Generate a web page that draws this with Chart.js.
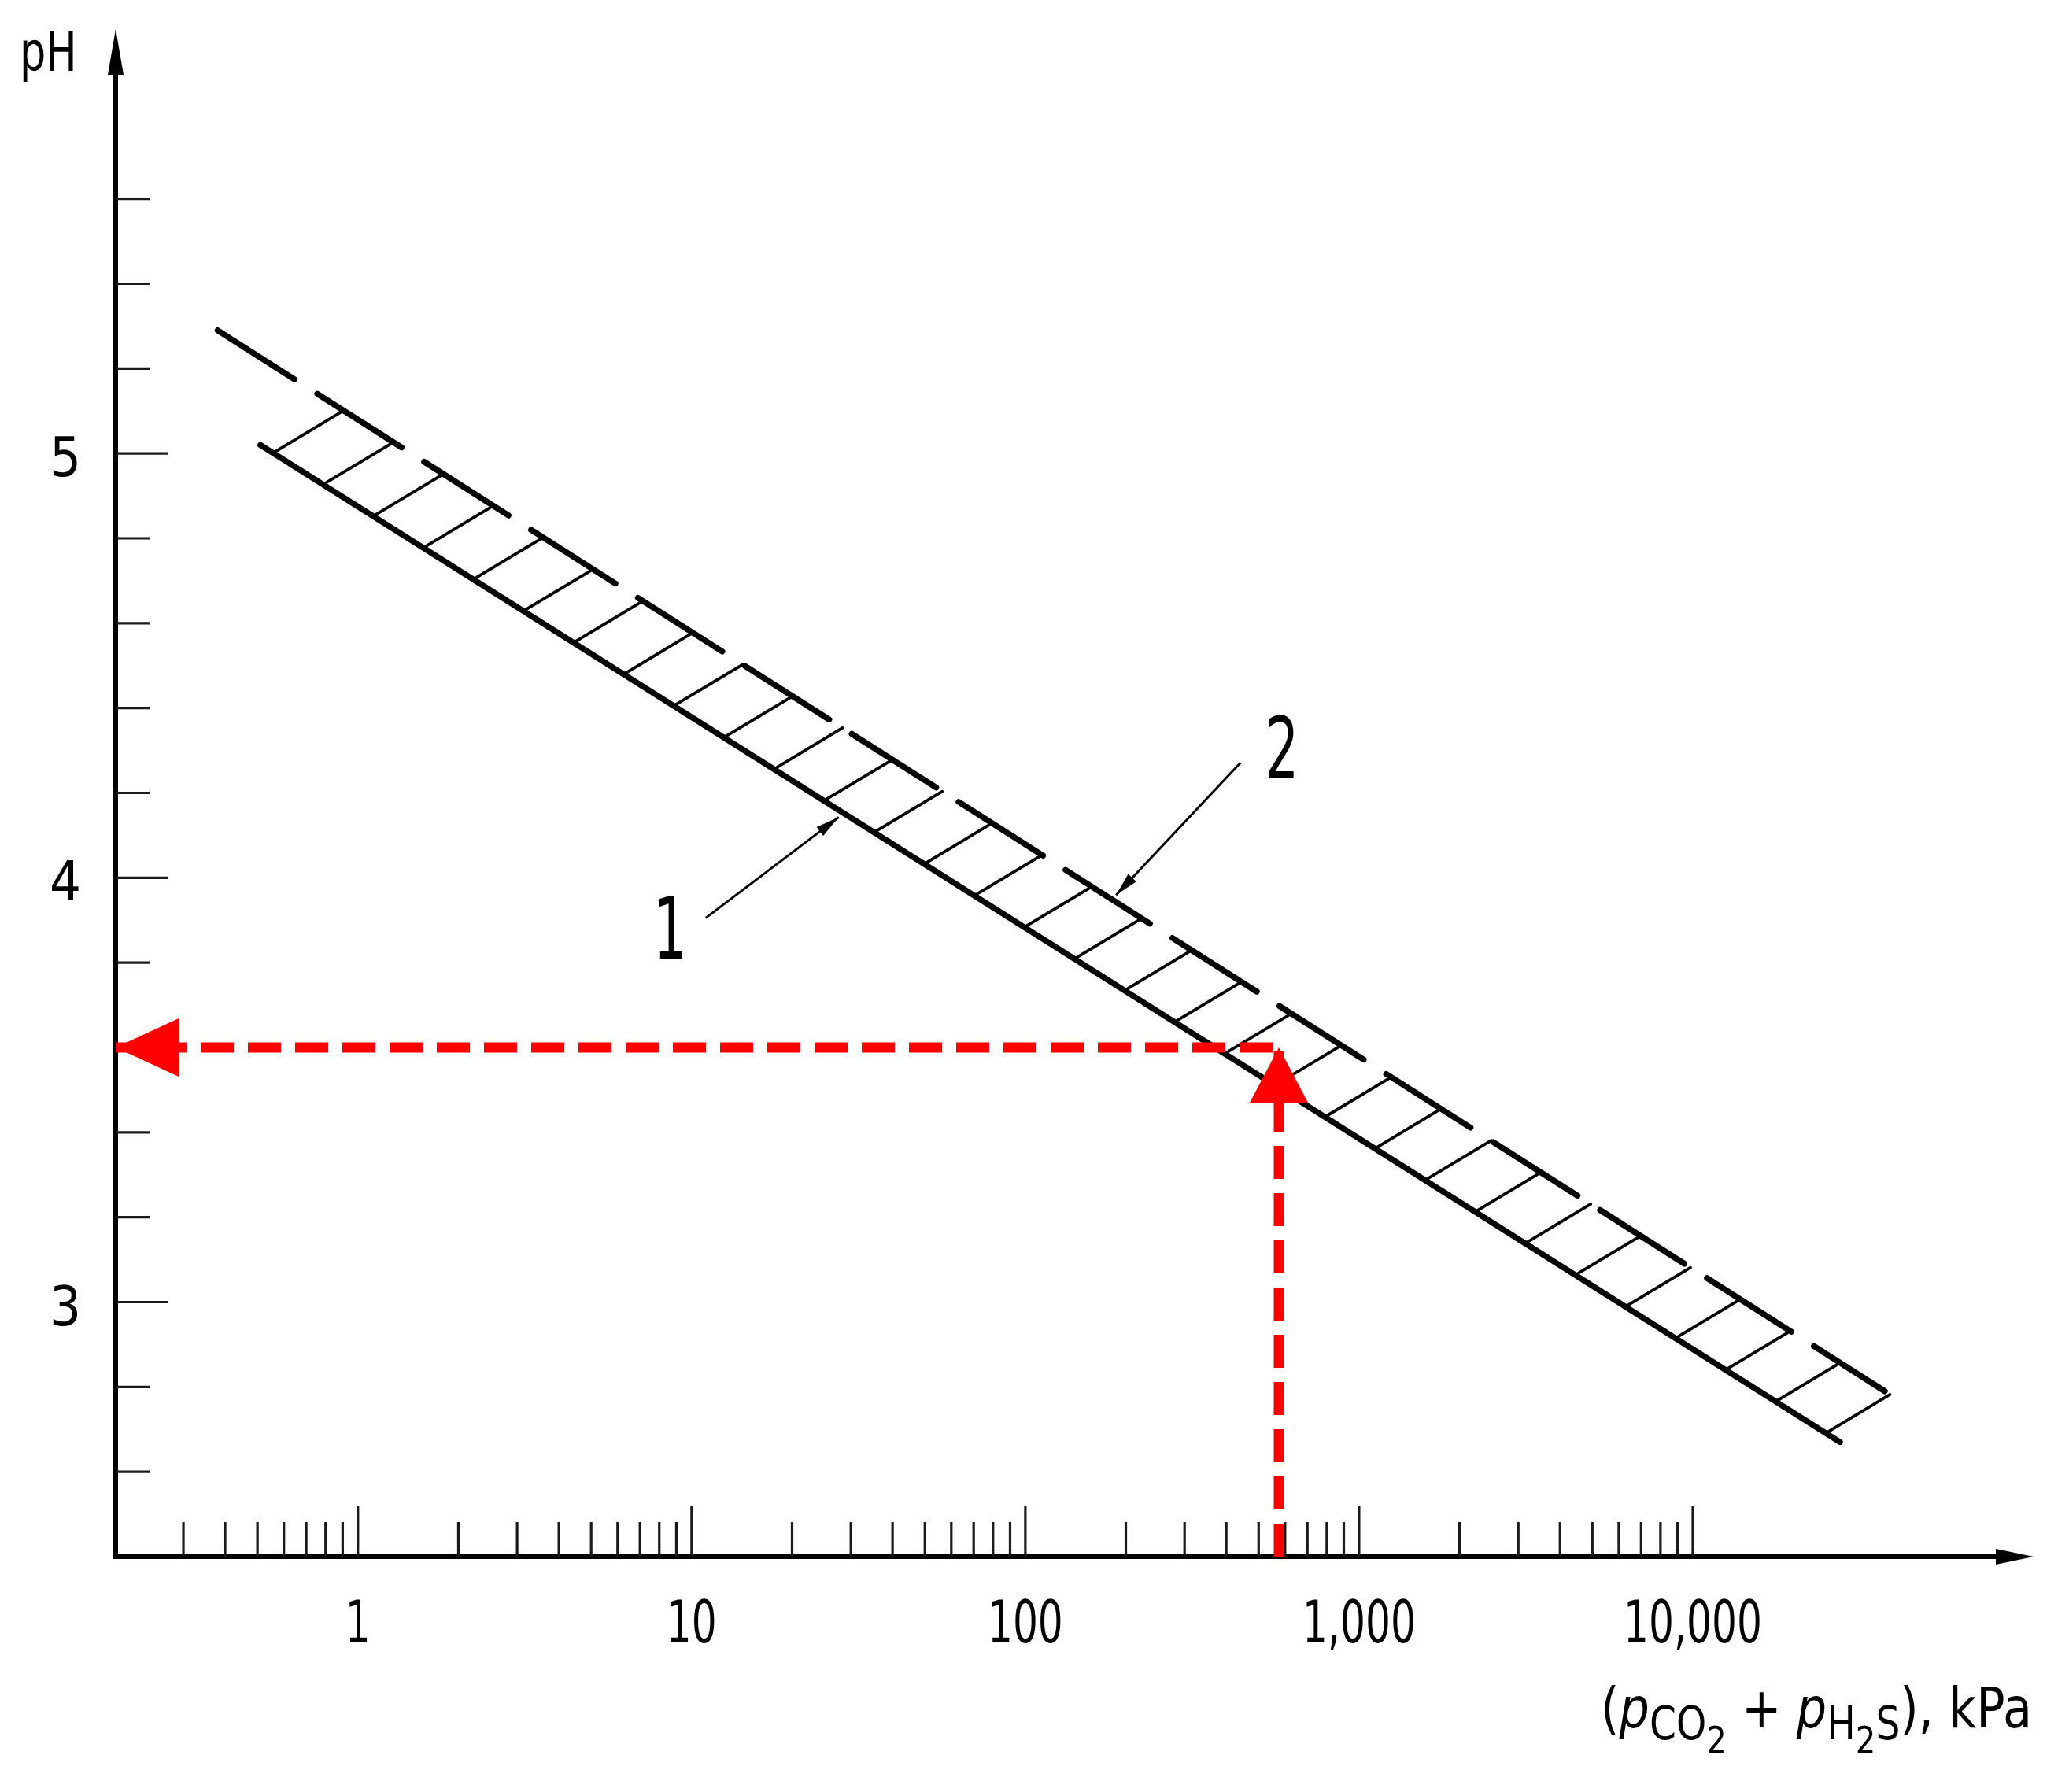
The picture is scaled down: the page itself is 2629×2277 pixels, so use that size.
<!DOCTYPE html>
<html>
<head>
<meta charset="utf-8">
<script src="https://cdn.jsdelivr.net/npm/chart.js@4.4.1/dist/chart.umd.min.js"></script>
<style>
  html, body { margin: 0; padding: 0; background: #ffffff; }
  #wrap { width: 2629px; height: 2277px; position: relative; }
  canvas { display: block; }
</style>
</head>
<body>
<div id="wrap"><canvas id="c" width="2629" height="2277"></canvas></div>
<script>
// ---------------- data ----------------
const pressureCurve1 = [0.51, 27600];     // kPa, curve 1 (solid)
const pHCurve1       = [5.02, 2.67];
const pressureCurve2 = [0.38, 37600];     // kPa, curve 2 (dashed)
const pHCurve2       = [5.29, 2.79];
const examplePressure = 575;              // kPa (red read-off example)
const examplePH       = 3.6;

const xRange = [0.188, 105000];
const yRange = [2.4, 6.0];

const xMajorTicks = [1, 10, 100, 1000, 10000];
const xTickLabels = ['1', '10', '100', '1,000', '10,000'];
const xMinorTicks = [0.3, 0.4, 0.5, 0.6, 0.7, 0.8, 0.9,
                     2, 3, 4, 5, 6, 7, 8, 9,
                     20, 30, 40, 50, 60, 70, 80, 90,
                     200, 300, 400, 500, 600, 700, 800, 900,
                     2000, 3000, 4000, 5000, 6000, 7000, 8000, 9000];
const yMajorTicks = [3, 4, 5];
const yTickLabels = ['3', '4', '5'];
const yMinorTicks = [2.6, 2.8, 3.2, 3.4, 3.6, 3.8, 4.2, 4.4, 4.6, 4.8, 5.2, 5.4, 5.6];

const yAxisTitle = 'pH';
const calloutLabels   = ['1', '2'];
const calloutPressure = [27.6, 187];      // kPa where the leader arrows touch curves 1 and 2

// ---------------- styles ----------------
const BLACK = '#000000';
const RED = '#ff0000';
const FONT = '"DejaVu Sans", "Liberation Sans", sans-serif';

function arrowHead(ctx, tipX, tipY, dirX, dirY, len, halfW, color) {
  const n = Math.hypot(dirX, dirY), ux = dirX / n, uy = dirY / n;
  const bx = tipX - ux * len, by = tipY - uy * len;
  ctx.beginPath();
  ctx.moveTo(tipX, tipY);
  ctx.lineTo(bx - uy * halfW, by + ux * halfW);
  ctx.lineTo(bx + uy * halfW, by - ux * halfW);
  ctx.closePath();
  ctx.fillStyle = color;
  ctx.fill();
}
function drawText(ctx, text, x, y, size, sx, align, italic) {
  ctx.save();
  ctx.translate(x, y);
  ctx.scale(sx, 1);
  ctx.font = (italic ? 'italic ' : '') + size + 'px ' + FONT;
  ctx.textAlign = align;
  ctx.textBaseline = 'alphabetic';
  ctx.fillStyle = BLACK;
  ctx.fillText(text, 0, 0);
  ctx.restore();
}
function seg(ctx, x1, y1, x2, y2) {
  ctx.beginPath(); ctx.moveTo(x1, y1); ctx.lineTo(x2, y2); ctx.stroke();
}

// ---------------- plugins ----------------
const axesPlugin = {
  id: 'axes',
  beforeDatasetsDraw(chart) {
    const { ctx, chartArea: a, scales: { x, y } } = chart;
    ctx.save();
    ctx.strokeStyle = BLACK;
    ctx.lineCap = 'butt';
    ctx.lineWidth = 6;
    seg(ctx, a.left, a.bottom + 3, a.left, a.top + 40);
    arrowHead(ctx, a.left, a.top, 0, -1, 58, 10, BLACK);
    seg(ctx, a.left - 3, a.bottom, a.right - 30, a.bottom);
    arrowHead(ctx, a.right, a.bottom, 1, 0, 48, 10, BLACK);

    ctx.lineWidth = 3.2;
    ctx.strokeStyle = '#1a1a1a';
    xMinorTicks.forEach(v => { const p = x.getPixelForValue(v); seg(ctx, p, a.bottom, p, a.bottom - 44); });
    xMajorTicks.forEach(v => { const p = x.getPixelForValue(v); seg(ctx, p, a.bottom, p, a.bottom - 64); });
    yMinorTicks.forEach(v => { const p = y.getPixelForValue(v); seg(ctx, a.left, p, a.left + 43, p); });
    yMajorTicks.forEach(v => { const p = y.getPixelForValue(v); seg(ctx, a.left, p, a.left + 66, p); });

    xMajorTicks.forEach((v, i) => drawText(ctx, xTickLabels[i], x.getPixelForValue(v), a.bottom + 109, 75, 0.67, 'center'));
    yMajorTicks.forEach((v, i) => drawText(ctx, yTickLabels[i], a.left - 64, y.getPixelForValue(v) + 29, 70, 0.9, 'center'));

    // y axis title
    drawText(ctx, yAxisTitle, 25, 90, 69, 0.76, 'left');

    // x axis title: (p_CO2 + p_H2S), kPa
    const parts = [
      { t: '(', s: 72, dy: 0 },
      { t: 'p', s: 72, dy: 0, it: true },
      { t: 'CO', s: 58, dy: 15 },
      { t: '2', s: 48, dy: 33 },
      { t: ' + ', s: 72, dy: 0 },
      { t: 'p', s: 72, dy: 0, it: true },
      { t: 'H', s: 58, dy: 15 },
      { t: '2', s: 48, dy: 33 },
      { t: 'S', s: 58, dy: 15 },
      { t: ')', s: 72, dy: 0 },
      { t: ',', s: 72, dy: 0 },
      { t: ' kPa', s: 72, dy: 0 }
    ];
    let total = 0;
    parts.forEach(p => {
      ctx.font = (p.it ? 'italic ' : '') + p.s + 'px ' + FONT;
      p.w = ctx.measureText(p.t).width;
      total += p.w;
    });
    const right = a.right - 2, left = 2034;
    const sx = (right - left) / total;
    let cx = left;
    const base = a.bottom + 217;
    parts.forEach(p => {
      drawText(ctx, p.t, cx, base + p.dy, p.s, sx, 'left', p.it);
      cx += p.w * sx;
    });
    ctx.restore();
  }
};

const hatchPlugin = {
  id: 'hatch',
  beforeDatasetsDraw(chart) {
    const { ctx } = chart;
    const l1 = chart.getDatasetMeta(2).data, l2 = chart.getDatasetMeta(3).data;
    if (!l1.length || !l2.length) return;
    const P0 = l1[0], P1 = l1[1], Q0 = l2[0], Q1 = l2[1];
    const dn = Math.hypot(75, -45), d = { x: 75 / dn, y: -45 / dn };
    const e = { x: Q1.x - Q0.x, y: Q1.y - Q0.y };
    const cross = (u, v) => u.x * v.y - u.y * v.x;
    const count = 32, t0 = 0.008, t1 = 0.991;
    ctx.save();
    ctx.strokeStyle = BLACK;
    ctx.lineWidth = 3.8;
    ctx.lineCap = 'round';
    for (let i = 0; i < count; i++) {
      const t = t0 + (t1 - t0) * i / (count - 1);
      const B = { x: P0.x + t * (P1.x - P0.x), y: P0.y + t * (P1.y - P0.y) };
      const w = { x: Q0.x - B.x, y: Q0.y - B.y };
      const s = cross(w, e) / cross(d, e);
      seg(ctx, B.x, B.y, B.x + s * d.x, B.y + s * d.y);
    }
    ctx.restore();
  }
};

const marksPlugin = {
  id: 'marks',
  afterDatasetsDraw(chart) {
    const { ctx, scales: { x } } = chart;
    ctx.save();
    // red arrowheads
    const v = chart.getDatasetMeta(0).data, h = chart.getDatasetMeta(1).data;
    if (v.length) arrowHead(ctx, v[1].x, v[1].y, 0, -1, 70, 37, RED);
    if (h.length) arrowHead(ctx, h[0].x, h[0].y, -1, 0, 80, 37, RED);

    // callouts
    const cfg = [
      { ds: 2, tipDy: 9,  start: [-169, 128], label: [-214, 180] },
      { ds: 3, tipDy: -9, start: [158, -168], label: [211, -148] }
    ];
    ctx.strokeStyle = BLACK;
    ctx.lineWidth = 3;
    cfg.forEach((c, i) => {
      const pts = chart.getDatasetMeta(c.ds).data;
      const px = x.getPixelForValue(calloutPressure[i]);
      const f = (px - pts[0].x) / (pts[1].x - pts[0].x);
      const py = pts[0].y + f * (pts[1].y - pts[0].y) + c.tipDy;
      const sx0 = px + c.start[0], sy0 = py + c.start[1];
      seg(ctx, sx0, sy0, px, py);
      arrowHead(ctx, px, py, px - sx0, py - sy0, 30, 7, BLACK);
      drawText(ctx, calloutLabels[i], px + c.label[0], py + c.label[1], 108, 0.62, 'center');
    });
    ctx.restore();
  }
};

// ---------------- chart ----------------
const toPts = (xs, ys) => xs.map((v, i) => ({ x: v, y: ys[i] }));

new Chart(document.getElementById('c'), {
  type: 'line',
  data: {
    datasets: [
      { // red vertical read-off line
        data: toPts([examplePressure, examplePressure], [yRange[0], examplePH]),
        borderColor: RED, borderWidth: 13, borderDash: [42, 18], borderDashOffset: 0,
        borderCapStyle: 'butt', pointRadius: 0, order: 0, clip: 20
      },
      { // red horizontal read-off line
        data: toPts([xRange[0], examplePressure], [examplePH, examplePH]),
        borderColor: RED, borderWidth: 13, borderDash: [42, 18], borderDashOffset: 12,
        borderCapStyle: 'butt', pointRadius: 0, order: 0, clip: 20
      },
      { // curve 1
        data: toPts(pressureCurve1, pHCurve1),
        borderColor: BLACK, borderWidth: 7.5, borderCapStyle: 'round',
        pointRadius: 0, order: 1
      },
      { // curve 2
        data: toPts(pressureCurve2, pHCurve2),
        borderColor: BLACK, borderWidth: 7.5, borderCapStyle: 'round',
        borderDash: [127, 34], borderDashOffset: 11,
        pointRadius: 0, order: 1
      }
    ]
  },
  options: {
    responsive: false,
    animation: false,
    devicePixelRatio: 1,
    events: [],
    layout: { padding: { left: 147, right: 45, top: 37, bottom: 299 } },
    scales: {
      x: { type: 'logarithmic', min: xRange[0], max: xRange[1], bounds: 'data', display: false },
      y: { type: 'linear', min: yRange[0], max: yRange[1], bounds: 'data', display: false }
    },
    plugins: { legend: { display: false }, tooltip: { enabled: false } }
  },
  plugins: [axesPlugin, hatchPlugin, marksPlugin]
});
</script>
</body>
</html>
